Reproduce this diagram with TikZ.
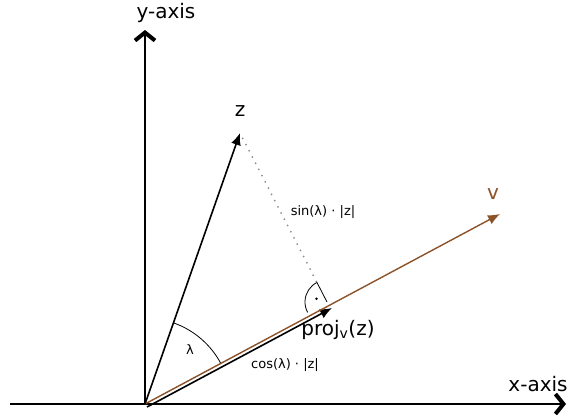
\documentclass[tikz,border=0pt]{standalone}
\usepackage{fontspec}
\setmainfont{DejaVu Sans}
\usetikzlibrary{arrows.meta,calc}
\definecolor{vbrown}{RGB}{140,82,40}
\begin{document}
\begin{tikzpicture}[x=1pt,y=1pt,
  axis/.style={line width=1.8pt,-{Straight Barb[length=8pt,width=20pt,line width=4pt]}},
  vec/.style={line width=1.6pt,-{Latex[length=12pt,width=10pt]}},
  biglabel/.style={font=\fontsize{20}{24}\selectfont,inner sep=0pt},
  smalllabel/.style={font=\fontsize{13}{16}\selectfont,inner sep=0pt}]
\useasboundingbox (0,0) rectangle (568,418);
% points
\coordinate (O) at (145,14);
\coordinate (Xs) at (10,14);
\coordinate (Xe) at (566,14);
\coordinate (Ye) at (145,388);
\coordinate (Z) at (240,285);
\coordinate (V) at (500,204);
\coordinate (Ps) at (147,11);
\coordinate (P) at (332,110);
\coordinate (F) at (327,116);
\coordinate (A) at ($(F)+(117.2:22)$);
% axes
\draw[axis] (Xs) -- (Xe);
\draw[axis] (O) -- (Ye);
% angle lambda
\draw[line width=0.8pt] ($(O)+(28.2:86)$) arc[start angle=28.2,end angle=70.7,radius=86];
% right angle
\draw[line width=0.8pt] (F) -- (A) arc[start angle=117.2,end angle=208.2,radius=22];
\fill ($(F)+(162.7:11)$) circle (1.4pt);
% dotted perpendicular
\draw[gray!90,line width=2pt,dash pattern=on 0pt off 7pt,line cap=round] ($(Z)!6pt!(A)$) -- (A);
% vectors
\draw[vec] (Ps) -- (P);
\draw[vec,vbrown,line width=1.4pt] (O) -- (V);
\draw[vec] (O) -- (Z);
% labels
\node[biglabel] (ylab) at (166,405) {y-axis};
\node[biglabel] (xlab) at (538,34) {x-axis};
\node[biglabel] (zlab) at (240,307) {z};
\node[biglabel,text=vbrown] (vlab) at (493,224) {v};
\node[biglabel] (plab) at (338,88) {proj\textsubscript{v}(z)};
\node[smalllabel] (llab) at (190,68) {λ};
\node[smalllabel] (clab) at (285,53) {cos(λ) · |z|};
\node[smalllabel] (slab) at (323,206) {sin(λ) · |z|};
\end{tikzpicture}
\end{document}
